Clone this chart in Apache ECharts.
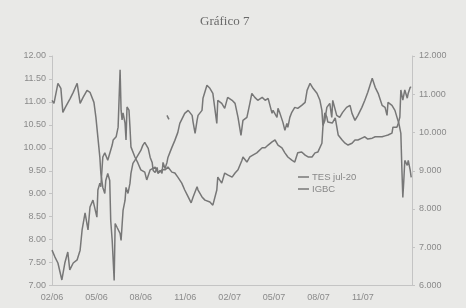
<!DOCTYPE html>
<html>
<head>
<meta charset="utf-8">
<script src="https://cdn.jsdelivr.net/npm/echarts@6/dist/echarts.min.js"></script>
<style>
html,body{margin:0;padding:0;background:#e9e9e7;}
#c{width:466px;height:308px;}
</style>
</head>
<body>
<div id="c"></div>
<script>
const title = 'Gráfico 7';
const xLabels = ['02/06','05/06','08/06','11/06','02/07','05/07','08/07','11/07'];
const seriesNames = ['TES jul-20','IGBC'];

const tesDates = ['2006-02-01','2006-02-07','2006-02-13','2006-02-21','2006-02-27','2006-03-03','2006-03-07','2006-03-14','2006-03-22','2006-03-28',
'2006-04-02','2006-04-08','2006-04-14','2006-04-18','2006-04-24','2006-05-02','2006-05-04','2006-05-08','2006-05-10','2006-05-14','2006-05-18','2006-05-24','2006-05-28',
'2006-06-03','2006-06-05','2006-06-11','2006-06-15','2006-06-19','2006-06-21','2006-06-23','2006-06-25','2006-06-29',
'2006-07-01','2006-07-03','2006-07-07','2006-07-09','2006-07-11','2006-07-19','2006-07-25','2006-08-01','2006-08-09','2006-08-13','2006-08-20','2006-08-30',
'2006-09-06','2006-09-14','2006-09-20','2006-09-26','2006-10-04','2006-10-10','2006-10-16','2006-10-24','2006-10-30',
'2006-11-07','2006-11-13','2006-11-17','2006-11-25','2006-11-27','2006-12-05','2006-12-11','2006-12-21','2006-12-27',
'2007-01-05','2007-01-07','2007-01-15','2007-01-21','2007-01-27','2007-02-06','2007-02-12','2007-02-18','2007-02-26','2007-02-28',
'2007-03-06','2007-03-12','2007-03-18','2007-03-26','2007-04-07','2007-04-13','2007-04-19','2007-04-27','2007-05-03','2007-05-09','2007-05-17','2007-05-23','2007-05-29',
'2007-06-07','2007-06-13','2007-06-19','2007-06-27','2007-07-04','2007-07-10','2007-07-18','2007-07-24','2007-07-30',
'2007-08-08','2007-08-10','2007-08-14','2007-08-18','2007-08-20','2007-08-29','2007-09-05','2007-09-11','2007-09-19','2007-09-25',
'2007-10-01','2007-10-09','2007-10-15','2007-10-21','2007-10-29','2007-11-05','2007-11-11','2007-11-20','2007-11-26',
'2007-12-02','2007-12-10','2007-12-16','2007-12-22','2007-12-30','2008-01-02','2008-01-10','2008-01-12','2008-01-16','2008-01-18','2008-01-20','2008-01-22','2008-01-26',
'2008-02-01','2008-02-03','2008-02-07','2008-02-09'];
const tesValues = [7.77,7.62,7.49,7.12,7.49,7.73,7.34,7.49,7.56,7.77,
8.21,8.58,8.21,8.71,8.86,8.49,9.08,9.23,9.15,9.80,9.89,9.73,9.73,
10.06,10.17,10.24,10.45,11.70,10.82,10.61,10.76,10.54,
10.17,10.89,10.82,10.45,10.02,9.80,9.67,9.52,9.47,9.30,9.52,9.58,
9.45,9.52,9.52,9.58,9.47,9.45,9.36,9.23,9.08,
8.93,8.80,8.93,9.15,9.08,8.93,8.86,8.82,8.75,
9.08,9.36,9.23,9.45,9.41,9.36,9.45,9.52,9.73,9.80,
9.69,9.80,9.84,9.89,10.00,10.00,10.06,10.13,10.17,10.06,10.00,9.89,9.80,
9.73,9.69,9.89,9.91,9.84,9.80,9.80,9.89,9.91,
10.10,10.45,10.76,10.67,10.56,10.54,10.65,10.28,10.17,10.10,
10.06,10.10,10.17,10.17,10.21,10.24,10.19,10.21,10.24,
10.24,10.24,10.26,10.28,10.32,10.45,10.45,10.50,10.67,11.26,11.30,11.04,11.26,
11.08,11.19,11.32,11.32];

const igbcDates = ['2006-02-01','2006-02-05','2006-02-13','2006-02-19','2006-02-23','2006-02-28','2006-03-08','2006-03-14','2006-03-22','2006-03-28',
'2006-04-04','2006-04-12','2006-04-18','2006-04-26','2006-04-30','2006-05-04','2006-05-08','2006-05-10','2006-05-14','2006-05-18','2006-05-20','2006-05-24','2006-05-28','2006-05-30',
'2006-06-03','2006-06-05','2006-06-07','2006-06-09','2006-06-13','2006-06-19','2006-06-21','2006-06-25','2006-06-29',
'2006-07-01','2006-07-05','2006-07-09','2006-07-11','2006-07-15','2006-07-19','2006-07-25','2006-08-01','2006-08-05','2006-08-09','2006-08-16','2006-08-20','2006-08-24','2006-08-26','2006-08-30',
'2006-09-04','2006-09-06','2006-09-10','2006-09-14','2006-09-16','2006-09-20','2006-09-24','2006-09-26','2006-09-30',
'2006-10-04','2006-10-10','2006-10-16','2006-10-20','2006-10-24','2006-10-30',
'2006-11-07','2006-11-15','2006-11-17','2006-11-21','2006-11-25','2006-11-27','2006-12-05','2006-12-07','2006-12-15','2006-12-21','2006-12-27',
'2007-01-01','2007-01-05','2007-01-07','2007-01-15','2007-01-21','2007-01-27','2007-02-06','2007-02-12','2007-02-18','2007-02-24','2007-02-28',
'2007-03-06','2007-03-12','2007-03-16','2007-03-22','2007-03-28','2007-04-07','2007-04-13','2007-04-19','2007-04-27','2007-04-29',
'2007-05-03','2007-05-07','2007-05-09','2007-05-13','2007-05-19','2007-05-23','2007-05-27','2007-05-29',
'2007-06-03','2007-06-07','2007-06-13','2007-06-19','2007-06-27','2007-07-04','2007-07-08','2007-07-14','2007-07-20','2007-07-28',
'2007-08-04','2007-08-08','2007-08-10','2007-08-14','2007-08-18','2007-08-24','2007-08-28','2007-08-30',
'2007-09-08','2007-09-14','2007-09-20','2007-09-28','2007-10-05','2007-10-09','2007-10-15','2007-10-21','2007-10-29',
'2007-11-05','2007-11-11','2007-11-20','2007-11-22','2007-11-26','2007-12-02','2007-12-10','2007-12-16','2007-12-20','2007-12-22','2007-12-30',
'2008-01-06','2008-01-12','2008-01-14','2008-01-18','2008-01-20','2008-01-22','2008-01-24','2008-01-26',
'2008-02-01','2008-02-03','2008-02-07','2008-02-09'];
const igbcValues = [10841,10762,11286,11155,10527,10657,10893,11050,11286,10762,
10919,11102,11050,10788,10396,9872,9349,8930,8564,8407,8747,8930,8747,7700,
7177,6653,6130,7622,7517,7360,7177,7962,8224,
8564,8407,8669,8930,9192,9270,9401,9532,9663,9742,9585,9349,9218,9009,8956,
9087,8930,9009,8930,9218,9061,9218,9349,9480,
9611,9794,10003,10239,10265,10500,
10579,10448,10265,9977,10317,10448,10579,10893,11233,11155,11024,
10631,10239,10841,10762,10631,10919,10841,10762,10396,9925,10317,
10396,10762,11024,10919,10841,10919,10841,10893,10500,10579,
10579,10396,10631,10500,10265,10056,10239,10134,
10396,10527,10657,10631,10710,10788,11102,11286,11155,11024,
10841,10579,10186,10317,10657,10762,10396,10841,
10448,10396,10527,10657,10710,10500,10317,10448,10657,
10841,11050,11416,11364,11181,11024,10710,10657,10448,10788,10710,
10579,10317,10239,9977,9087,8302,8747,9270,
9140,9270,9009,8826];

// short isolated IGBC fragment seen in Sept 2006
const igbcFragDates = ['2006-09-24','2006-09-28'];
const igbcFragValues = [10448,10343];

function toMonth(s){
  const p = s.split('-').map(Number);
  return (p[0]-2006)*12 + (p[1]-2) + (p[2]-1)/30;
}
const tesData = tesDates.map((d,i)=>[toMonth(d), tesValues[i]]);
const igbcData = igbcDates.map((d,i)=>[toMonth(d), igbcValues[i]]);
const fragData = igbcFragDates.map((d,i)=>[toMonth(d), igbcFragValues[i]]);

const lineColor = '#777777';
const txt = '#8a8a8a';
const chart = echarts.init(document.getElementById('c'));
chart.setOption({
  backgroundColor: '#e9e9e7',
  animation: false,
  title: {
    text: title, left: 195, top: 10,
    textStyle: {fontFamily: 'Liberation Serif', fontSize: 13, fontWeight: 'normal', color: '#6a6a6a'}
  },
  grid: {left: 52, right: 54, top: 56, bottom: 22.5},
  legend: {
    orient: 'vertical', left: 298, top: 172, padding: 0,
    icon: 'rect', itemWidth: 11, itemHeight: 1.5, itemGap: 2,
    textStyle: {fontFamily: 'Liberation Sans', fontSize: 9.5, color: '#888', padding: [0,0,0,-2]},
    data: seriesNames
  },
  xAxis: {
    type: 'value', min: 0, max: 24.32, interval: 3,
    axisLine: {show: true, lineStyle: {color: '#c4c4c4'}},
    axisTick: {show: false},
    splitLine: {show: false},
    axisLabel: {
      margin: 8, fontFamily: 'Liberation Sans', fontSize: 9, color: txt,
      showMaxLabel: false,
      formatter: v => { const i = Math.round(v/3); return (Math.abs(v/3 - i) < 1e-6 && xLabels[i]) ? xLabels[i] : ''; }
    }
  },
  yAxis: [
    {
      type: 'value', min: 7, max: 12, interval: 0.5, position: 'left',
      axisLine: {show: true, lineStyle: {color: '#c4c4c4'}},
      axisTick: {show: true, length: 3, lineStyle: {color: '#c4c4c4'}},
      splitLine: {show: false},
      axisLabel: {margin: 6, fontFamily: 'Liberation Sans', fontSize: 9, color: txt, formatter: v => v.toFixed(2)}
    },
    {
      type: 'value', min: 6000, max: 12000, interval: 1000, position: 'right',
      axisLine: {show: true, lineStyle: {color: '#c4c4c4'}},
      axisTick: {show: true, length: 3, lineStyle: {color: '#c4c4c4'}},
      splitLine: {show: false},
      axisLabel: {margin: 7, fontFamily: 'Liberation Sans', fontSize: 9, color: txt, formatter: v => (v/1000) + '.000'}
    }
  ],
  series: [
    {name: seriesNames[0], type: 'line', yAxisIndex: 0, data: tesData, symbol: 'none',
     lineStyle: {color: lineColor, width: 1.5}, itemStyle: {color: lineColor}},
    {name: seriesNames[1], type: 'line', yAxisIndex: 1, data: igbcData, symbol: 'none',
     lineStyle: {color: lineColor, width: 1.5}, itemStyle: {color: lineColor}},
    {name: 'IGBC-frag', type: 'line', yAxisIndex: 1, data: fragData, symbol: 'none',
     lineStyle: {color: lineColor, width: 1.5}, itemStyle: {color: lineColor}}
  ]
});
</script>
</body>
</html>
